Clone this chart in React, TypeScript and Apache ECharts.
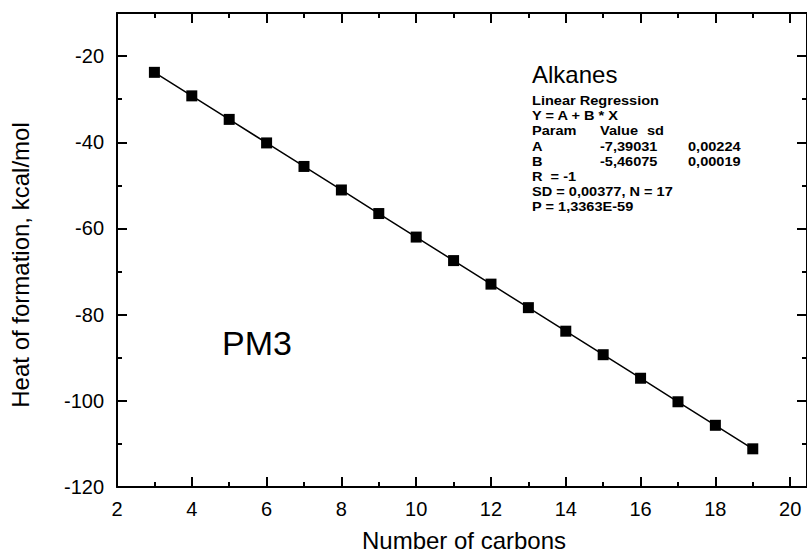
import React, { useEffect, useRef } from "react";
import * as echarts from "echarts";

const carbons = [3, 4, 5, 6, 7, 8, 9, 10, 11, 12, 13, 14, 15, 16, 17, 18, 19];
const heatOfFormation = [
  -23.77, -29.23, -34.69, -40.15, -45.61, -51.07, -56.54, -62.0, -67.46,
  -72.92, -78.38, -83.84, -89.3, -94.76, -100.22, -105.68, -111.14,
];
const xTitle = "Number of carbons";
const yTitle = "Heat of formation, kcal/mol";
const panelTitle = "Alkanes";
const methodLabel = "PM3";
const statsLines = [
  ["Linear Regression"],
  ["Y = A + B * X"],
  ["Param", "Value", "sd"],
  ["A", "-7,39031", "0,00224"],
  ["B", "-5,46075", "0,00019"],
  ["R  = -1"],
  ["SD = 0,00377, N = 17"],
  ["P = 1,3363E-59"],
];

const FONT = "'Liberation Sans', Arial, Helvetica, sans-serif";

export default function App() {
  const ref = useRef<HTMLDivElement>(null);
  useEffect(() => {
    if (!ref.current) return;
    const chart = echarts.init(ref.current, null, { renderer: "svg" });

    const X0 = 117, Y0 = 13, W = 693, H = 474;
    const XMAX = 20.45;

    const xBase = (position: string, interval: number, len: number, labels: boolean, line: boolean) => ({
      type: "value",
      position,
      min: 2,
      max: XMAX,
      interval,
      splitLine: { show: false },
      axisLine: { show: line, onZero: false, lineStyle: { color: "#000", width: 2 } },
      axisTick: { show: true, inside: true, length: len, lineStyle: { color: "#000", width: 2 } },
      axisLabel: labels
        ? { show: true, showMaxLabel: false, margin: 12, color: "#000", fontSize: 20, fontFamily: FONT }
        : { show: false },
    });
    const yBase = (position: string, interval: number, len: number, labels: boolean, line: boolean) => ({
      type: "value",
      position,
      min: -120,
      max: -10,
      interval,
      splitLine: { show: false },
      axisLine: { show: line, onZero: false, lineStyle: { color: "#000", width: 2 } },
      axisTick: { show: true, inside: true, length: len, lineStyle: { color: "#000", width: 2 } },
      axisLabel: labels
        ? { show: true, showMaxLabel: false, margin: 13, color: "#000", fontSize: 20, fontFamily: FONT }
        : { show: false },
    });

    const graphics: any[] = [];
    graphics.push({
      type: "text",
      x: 532,
      y: 74,
      style: { text: panelTitle, font: `24px ${FONT}`, fill: "#000", textVerticalAlign: "middle" },
    });
    graphics.push({
      type: "text",
      x: 222,
      y: 343,
      style: { text: methodLabel, font: `34px ${FONT}`, fill: "#000", textVerticalAlign: "middle" },
    });
    const headerCols = [532, 600, 647];
    const valueCols = [532, 600, 688];
    statsLines.forEach((row, i) => {
      const cols = i === 2 ? headerCols : valueCols;
      row.forEach((t, j) => {
        graphics.push({
          type: "text",
          x: cols[j],
          y: 101 + i * 15.1,
          scaleX: 1.12,
          style: {
            text: t,
            font: `bold 13px ${FONT}`,
            lineHeight: 13,
            fill: "#000",
            textVerticalAlign: "middle",
          },
        });
      });
    });
    graphics.push({
      type: "text",
      x: 464,
      y: 540,
      style: { text: xTitle, font: `24px ${FONT}`, fill: "#000", textAlign: "center", textVerticalAlign: "middle" },
    });
    graphics.push({
      type: "text",
      x: 20,
      y: 265,
      rotation: Math.PI / 2,
      style: { text: yTitle, font: `24px ${FONT}`, fill: "#000", textAlign: "center", textVerticalAlign: "middle" },
    });

    chart.setOption({
      animation: false,
      backgroundColor: "#fff",
      grid: { left: X0, top: Y0, width: W, height: H, containLabel: false },
      xAxis: [
        xBase("bottom", 2, 10, true, true),
        xBase("bottom", 1, 5, false, false),
        xBase("top", 2, 10, false, true),
        xBase("top", 1, 5, false, false),
      ],
      yAxis: [
        yBase("left", 20, 10, true, true),
        yBase("left", 10, 5, false, false),
        yBase("right", 20, 10, false, true),
        yBase("right", 10, 5, false, false),
      ],
      graphic: graphics,
      series: [
        {
          type: "line",
          xAxisIndex: 0,
          yAxisIndex: 0,
          data: carbons.map((c, i) => [c, heatOfFormation[i]]),
          symbol: "rect",
          symbolSize: 11,
          showSymbol: true,
          lineStyle: { color: "#000", width: 1.5 },
          itemStyle: { color: "#000" },
          z: 5,
        },
      ],
    });
    return () => chart.dispose();
  }, []);
  return (
    <div
      ref={ref}
      style={{ position: "absolute", left: 0, top: 0, width: 807, height: 555, background: "#fff" }}
    />
  );
}
